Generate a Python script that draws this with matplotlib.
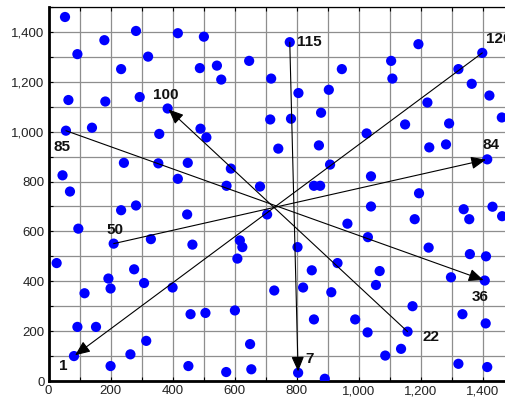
import matplotlib
matplotlib.use("Agg")
import matplotlib.pyplot as plt
from matplotlib.ticker import MultipleLocator, FuncFormatter

# Site coordinates
xs = [53, 282, 417, 501, 180, 93, 321, 647, 543, 234, 488, 557, 64, 183, 294,
      384, 56, 140, 490, 509, 357, 243, 354, 449, 588, 417, 574, 45, 69, 682,
      778, 1193, 1399, 1105, 946, 1322, 718, 1109, 1365, 806, 904, 1422, 1222,
      1462, 715, 782, 879, 1150, 1292, 1026, 741, 872, 1228, 1282, 1415, 908,
      1040, 856, 876, 1195, 1339, 1357, 1432, 1463, 1181, 1226, 1359, 1411,
      705, 1040, 964, 1030, 803, 932, 849, 1068, 1298, 1407, 728, 821, 912,
      1056, 1174, 856, 989, 1335, 1410, 1029, 1158, 650, 1137, 1086, 654, 805,
      891, 1322, 1415, 26, 96, 234, 282, 447, 210, 330, 464, 617, 625, 609,
      276, 193, 200, 308, 400, 116, 458, 506, 601, 93, 153, 315, 82, 264, 200,
      451, 573]
ys = [1460, 1404, 1395, 1381, 1367, 1311, 1301, 1284, 1265, 1251, 1255, 1209,
      1127, 1121, 1139, 1093, 1004, 1016, 1012, 977, 991, 875, 873, 875, 852,
      811, 783, 825, 760, 780, 1359, 1351, 1316, 1284, 1251, 1251, 1213, 1213,
      1192, 1155, 1168, 1145, 1117, 1057, 1049, 1052, 1076, 1029, 1033, 993,
      932, 945, 937, 949, 889, 868, 821, 783, 783, 753, 689, 649, 699, 661,
      649, 535, 509, 500, 668, 700, 631, 577, 537, 473, 444, 441, 416, 403,
      363, 375, 356, 385, 300, 247, 247, 268, 231, 195, 198, 148, 129, 102, 47,
      33, 9, 69, 56, 473, 611, 685, 704, 668, 551, 569, 547, 564, 537, 491,
      448, 411, 371, 393, 375, 352, 268, 273, 283, 217, 217, 161, 100, 107, 60,
      60, 36]

# Labelled sites: id -> (x, y)
site_ids = [1, 7, 22, 36, 50, 84, 85, 100, 115, 120]
site_x = [82, 805, 1158, 1407, 210, 1415, 56, 384, 778, 1399]
site_y = [100, 33, 198, 403, 551, 889, 1004, 1093, 1359, 1316]

# Moves between labelled sites (from, to)
moves = [(115, 7), (85, 36), (120, 1), (50, 84), (22, 100)]

x_ticks = [0, 200, 400, 600, 800, 1000, 1200, 1400]
y_ticks = [0, 200, 400, 600, 800, 1000, 1200, 1400]

# label placement in points, relative to each site
label_offsets = {1: (-8, -7), 7: (5, 10), 22: (11, -4), 36: (-3, -12),
                 50: (1, 10), 84: (3, 10), 85: (-3, -12), 100: (-1, 10),
                 115: (5, 0), 120: (3, 10)}
label_align = {22: "left", 115: "left", 120: "left", 7: "left"}

fig = plt.figure(figsize=(5.06, 3.99), dpi=100)
ax = fig.add_axes([0.096, 0.0451, 0.919, 0.9373])

ax.scatter(xs, ys, s=54, color="#0000ff", edgecolors="none", zorder=3)

pos = {i: (x, y) for i, x, y in zip(site_ids, site_x, site_y)}
for a, b in moves:
    ax.annotate("", xy=pos[b], xytext=pos[a],
                arrowprops=dict(arrowstyle="-|>,head_length=0.75,head_width=0.32",
                                color="black", lw=0.8, mutation_scale=12,
                                shrinkA=0, shrinkB=1),
                zorder=4)

for i in site_ids:
    dx, dy = label_offsets[i]
    ax.annotate(str(i), xy=pos[i], xytext=(dx, dy), textcoords="offset points",
                ha=label_align.get(i, "center"),
                va="center", fontsize=11, fontweight="bold",
                family="Liberation Sans", color="#111111", zorder=5,
                annotation_clip=False)

ax.set_xlim(0, 1500)
ax.set_ylim(0, 1500)
ax.set_xticks(x_ticks)
ax.set_yticks(y_ticks)
ax.xaxis.set_minor_locator(MultipleLocator(100))
ax.yaxis.set_minor_locator(MultipleLocator(100))
fmt = FuncFormatter(lambda v, p: f"{v:,.0f}")
ax.xaxis.set_major_formatter(fmt)
ax.yaxis.set_major_formatter(fmt)

ax.grid(True, which="both", color="#8e8e8e", lw=0.9)
ax.set_axisbelow(True)

ax.tick_params(which="both", direction="in", top=True, right=False,
               length=3, width=0.8, colors="black", labelsize=9.5)
for lab in ax.get_xticklabels() + ax.get_yticklabels():
    lab.set_family("Liberation Sans")
    lab.set_color("#222222")
ax.tick_params(axis="x", pad=3)
ax.tick_params(axis="y", pad=3)

ax.spines["left"].set_linewidth(2.0)
ax.spines["bottom"].set_linewidth(2.0)
ax.spines["top"].set_linewidth(0.9)
ax.spines["right"].set_visible(False)

fig.savefig("out.png", dpi=100)
